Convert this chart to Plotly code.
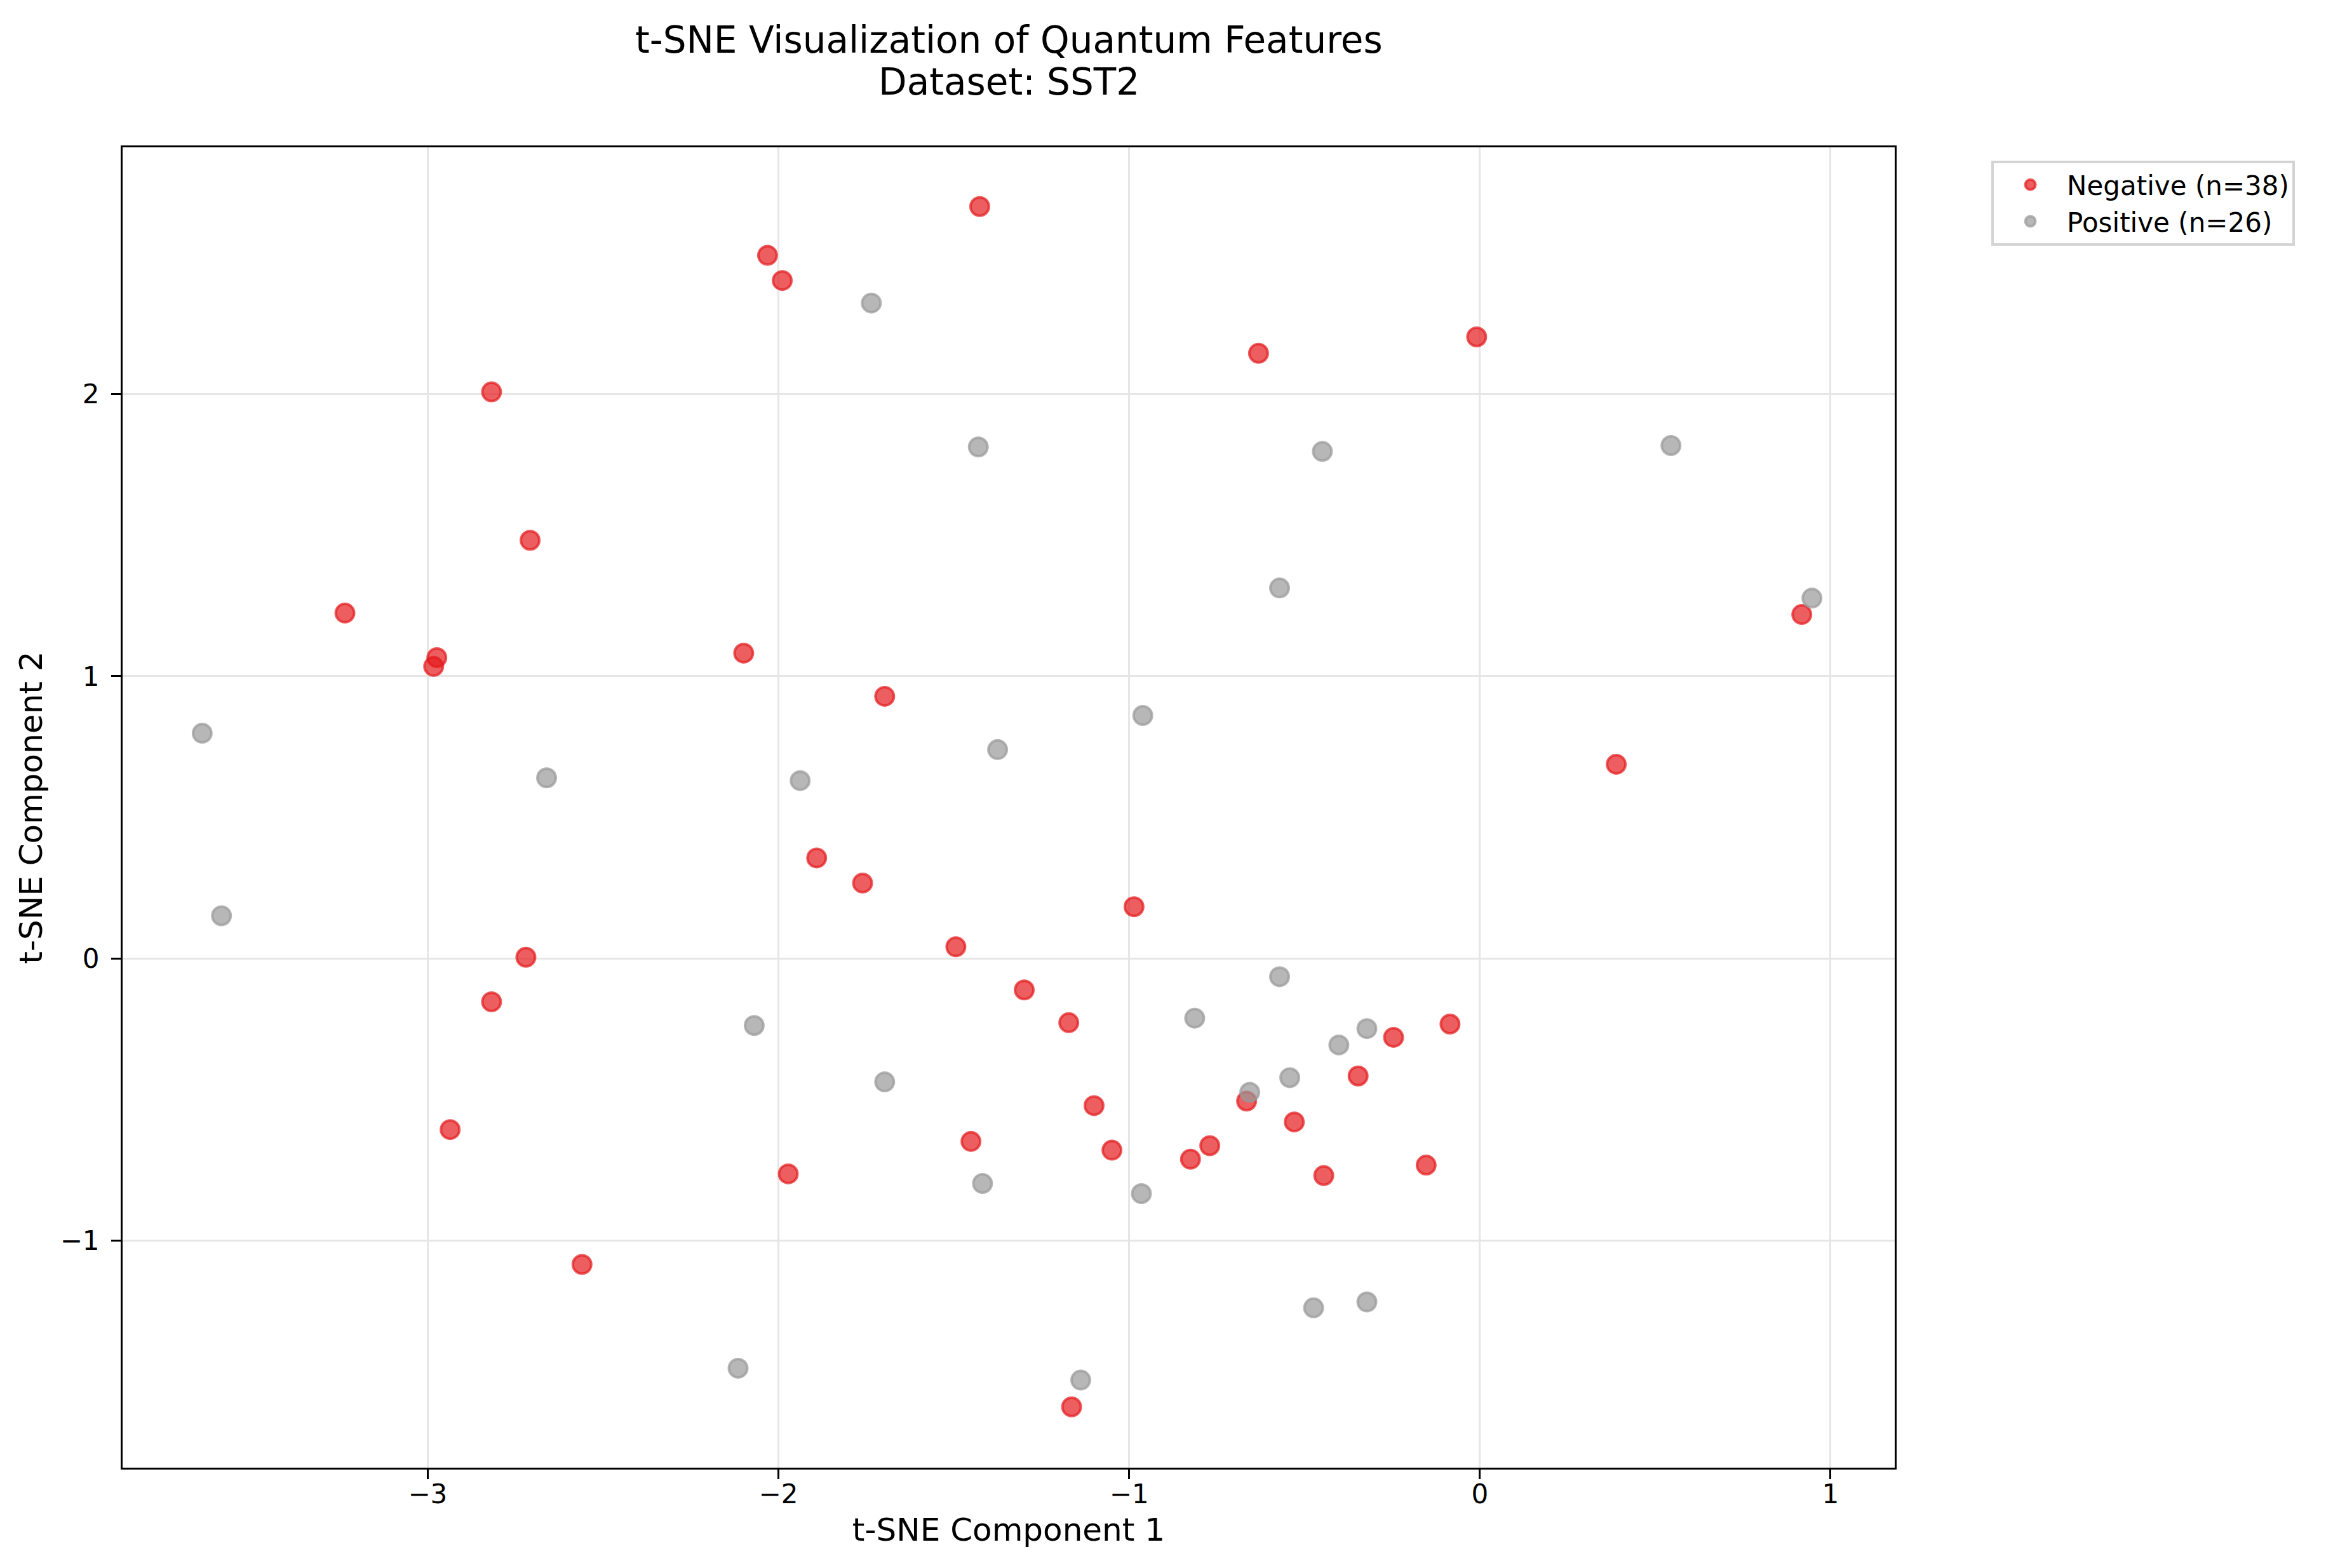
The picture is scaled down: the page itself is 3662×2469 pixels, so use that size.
import plotly.graph_objects as go

# Negative class (red)
neg_x = [-1.426, -2.031, -1.989, -0.631, -0.009, -2.818, -2.708, -3.236, -2.974, -2.983,
         -2.099, -1.697, 0.918, 0.389, -1.891, -1.760, -0.986, -1.494, -2.720, -2.818,
         -1.299, -1.172, -0.246, -0.085, -0.347, -1.100, -0.665, -0.529, -2.936, -1.451,
         -1.049, -0.770, -0.825, -1.972, -0.445, -0.153, -2.560, -1.164]
neg_y = [2.665, 2.492, 2.403, 2.145, 2.203, 2.008, 1.482, 1.224, 1.066, 1.035,
         1.082, 0.929, 1.219, 0.688, 0.356, 0.267, 0.183, 0.041, 0.004, -0.154,
         -0.112, -0.228, -0.280, -0.233, -0.417, -0.522, -0.506, -0.580, -0.607, -0.649,
         -0.680, -0.664, -0.712, -0.764, -0.770, -0.733, -1.085, -1.590]

# Positive class (grey)
pos_x = [-1.735, -1.430, -0.449, 0.545, -0.571, 0.947, -0.961, -3.643, -1.375, -2.661,
         -1.938, -3.588, -0.571, -2.069, -0.813, -0.322, -0.402, -0.542, -0.656, -1.697,
         -1.418, -0.965, -0.474, -0.322, -2.115, -1.138]
pos_y = [2.323, 1.813, 1.797, 1.818, 1.313, 1.277, 0.861, 0.798, 0.740, 0.640,
         0.630, 0.151, -0.065, -0.238, -0.212, -0.249, -0.307, -0.423, -0.475, -0.438,
         -0.798, -0.834, -1.239, -1.218, -1.453, -1.495]

x_ticks = [-3, -2, -1, 0, 1]
y_ticks = [-1, 0, 1, 2]

title_line1 = "t-SNE Visualization of Quantum Features"
title_line2 = "Dataset: SST2"

FONT = "DejaVu Sans"

fig = go.Figure()
fig.add_trace(go.Scatter(
    x=neg_x, y=neg_y, mode="markers", name=f"Negative (n={len(neg_x)})",
    marker=dict(size=29, color="rgba(228,26,28,0.7)",
                line=dict(color="rgba(228,26,28,0.7)", width=4)),
))
fig.add_trace(go.Scatter(
    x=pos_x, y=pos_y, mode="markers", name=f"Positive (n={len(pos_x)})",
    marker=dict(size=29, color="rgba(153,153,153,0.7)",
                line=dict(color="rgba(153,153,153,0.7)", width=4)),
))

axis_common = dict(
    showline=True, mirror=True, linecolor="black", linewidth=3,
    ticks="outside", ticklen=15, tickwidth=3, tickcolor="black",
    showgrid=True, gridcolor="#e6e6e6", gridwidth=3, zeroline=False,
    tickfont=dict(family=FONT, size=42, color="black"),
)

fig.update_layout(
    width=3662, height=2469,
    margin=dict(l=185, r=687, t=224, b=166),
    paper_bgcolor="white", plot_bgcolor="white",
    font=dict(family=FONT, color="black"),
    xaxis=dict(range=[-3.870, 1.183], tickvals=x_ticks, ticklabelstandoff=-12,
               title=dict(text="t-SNE Component 1", font=dict(family=FONT, size=50, color="black"), standoff=15),
               **axis_common),
    yaxis=dict(range=[-1.8055, 2.875], tickvals=y_ticks, ticklabelstandoff=10,
               title=dict(text="t-SNE Component 2", font=dict(family=FONT, size=50, color="black"), standoff=13),
               **axis_common),
    legend=dict(
        x=1.0545, xanchor="left", y=0.9899, yanchor="top",
        bgcolor="white", bordercolor="#d4d4d4", borderwidth=4,
        font=dict(family=FONT, size=42, color="black"),
        itemsizing="trace", itemwidth=105,
    ),
    showlegend=True,
    annotations=[
        dict(text=title_line1, xref="paper", yref="paper", x=0.5, y=1,
             xanchor="center", yanchor="middle", yshift=169, showarrow=False,
             font=dict(family=FONT, size=58, color="black")),
        dict(text=title_line2, xref="paper", yref="paper", x=0.5, y=1,
             xanchor="center", yanchor="middle", yshift=103, showarrow=False,
             font=dict(family=FONT, size=58, color="black")),
    ],
)

fig.write_html("out.html")
